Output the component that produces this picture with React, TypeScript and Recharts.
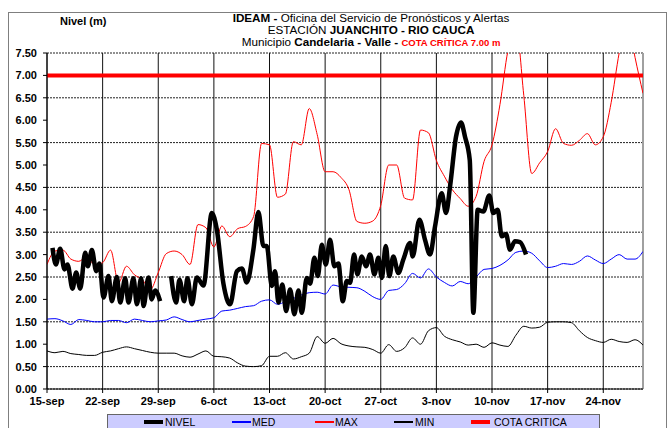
import React from "react";
import { CartesianGrid, Line, LineChart, ReferenceLine, XAxis, YAxis } from "recharts";

// days counted from 15-sep
const weekTicks = [0, 7, 14, 21, 28, 35, 42, 49, 56, 63, 70];
const weekLabels = ["15-sep", "22-sep", "29-sep", "6-oct", "13-oct", "20-oct", "27-oct", "3-nov", "10-nov", "17-nov", "24-nov"];
const levelTicks = [0, 0.5, 1, 1.5, 2, 2.5, 3, 3.5, 4, 4.5, 5, 5.5, 6, 6.5, 7, 7.5];
const lastDay = 75;
const cotaCritica = 7.0;

// daily historical curves, day 0..75
const maxLevel = [
  2.78, 3.08, 3.1, 2.9, 2.85, 2.95, 2.77, 2.82, 3.1, 2.37,
  2.74, 2.55, 2.44, 2.22, 2.6, 3.02, 3.08, 3.0, 2.78, 3.67,
  3.6, 3.17, 3.64, 3.4, 3.58, 3.63, 3.85, 5.48, 5.45, 4.28,
  4.35, 5.52, 5.45, 6.26, 5.68, 4.85, 4.85, 4.72, 4.45, 3.74,
  3.7, 3.75, 4.1, 5.0, 5.0, 4.26, 4.22, 5.78, 5.72, 5.1,
  4.75, 4.45, 4.25, 4.08, 4.3, 5.08, 5.45, 6.35, 7.55, 8.1,
  6.55, 4.81, 5.05, 5.3, 5.81, 5.48, 5.44, 5.55, 5.7, 5.45,
  5.63, 6.4, 7.5, 8.3, 7.4, 6.6,
];
const medLevel = [
  1.56, 1.57, 1.52, 1.44, 1.55, 1.53, 1.5, 1.5, 1.53, 1.53,
  1.48, 1.56, 1.53, 1.5, 1.52, 1.54, 1.61, 1.55, 1.5, 1.53,
  1.56, 1.59, 1.74, 1.76, 1.8, 1.84, 1.86, 1.96, 1.99, 1.89,
  1.95, 2.02, 2.1, 2.15, 2.16, 2.12, 2.32, 2.28, 2.27, 2.26,
  2.18, 2.06, 2.0, 2.2, 2.22, 2.35, 2.58, 2.48, 2.68, 2.5,
  2.38, 2.3, 2.4, 2.35, 2.5, 2.67, 2.69, 2.76, 2.88, 3.05,
  3.08, 3.03, 2.86, 2.71, 2.74, 2.8, 2.78, 2.85, 2.97, 2.88,
  2.8, 2.9, 3.0, 2.9, 2.9, 3.07,
];
const minLevel = [
  0.85, 0.81, 0.84, 0.79, 0.77, 0.75, 0.75, 0.82, 0.85, 0.9,
  0.94, 0.9, 0.86, 0.82, 0.8, 0.8, 0.8, 0.74, 0.71, 0.78,
  0.85, 0.73, 0.72, 0.69, 0.58, 0.51, 0.5, 0.52, 0.73, 0.73,
  0.81, 0.67, 0.72, 0.8, 1.17, 1.02, 1.13, 1.01, 0.96, 0.94,
  0.93, 0.88, 0.8, 0.99, 0.84, 0.92, 1.14, 1.0, 1.3, 1.37,
  1.18, 1.1, 1.05, 0.98, 1.0, 0.93, 1.03, 0.98, 0.95, 1.2,
  1.4, 1.36, 1.38, 1.49, 1.5, 1.5, 1.48, 1.3, 1.15, 1.08,
  1.04, 1.11, 1.06, 1.04, 1.1, 0.98,
];

// observed level readings (day, metres); null = no data
const nivelDay = [
  0.69, 1.12, 1.66, 2.2, 2.58, 3.21, 3.67, 4.18, 4.81, 5.14,
  5.65, 6.19, 6.6, 7.11, 7.74, 8.16, 8.79, 9.21, 9.84, 10.25,
  10.88, 11.31, 11.85, 12.14, 12.77, 13.17, 13.61, 14.24, 14.9,
  15.62, 16.25, 16.67, 17.26, 17.67, 18.23, 18.86, 19.69, 20.74, 21.37,
  22.2, 23.04, 23.89, 24.52, 25.14, 25.97, 26.6, 27.23, 27.66, 28.29,
  28.7, 29.12, 29.62, 30.09, 30.59, 31.13, 31.64, 32.06, 32.69, 33.11,
  33.65, 34.08, 34.58, 35.08, 35.62, 36.16, 36.67, 37.22, 37.72, 38.14,
  38.64, 39.06, 39.61, 40.15, 40.65, 41.2, 41.7, 42.13, 42.63, 43.08,
  43.58, 44.21, 44.84, 45.69, 46.02, 46.86, 47.57, 48.2, 48.83, 49.67,
  50.21, 50.72, 51.47, 52.1, 52.6, 53.2, 53.65, 54.2, 54.91, 55.66,
  56.16, 56.72, 57.22, 57.76, 58.26, 58.89, 59.52, 60.28,
];
const nivelLevel = [
  3.15, 2.78, 3.13, 2.67, 2.78, 2.24, 2.6, 2.24, 3.04, 2.74,
  3.1, 2.63, 2.8, 2.04, 2.52, 1.96, 2.5, 1.93, 2.47, 1.93,
  2.47, 1.89, 2.47, 1.85, 2.49, 2.0, 2.2, 1.96, null,
  2.52, 1.93, 2.44, 1.96, 2.47, 1.89, 2.49, 2.31, 3.93, 3.56,
  2.35, 1.89, 2.63, 2.69, 2.38, 3.11, 3.95, 3.19, 3.19, 2.3,
  2.63, 1.93, 2.33, 1.74, 2.22, 1.67, 2.2, 1.7, 2.48, 2.35,
  2.93, 2.52, 3.22, 2.78, 3.33, 2.74, 2.8, 1.96, 2.41, 2.37,
  3.0, 2.56, 2.96, 2.74, 3.0, 2.56, 2.93, 2.48, 3.19, 2.52,
  2.96, 2.59, 2.89, 3.26, 2.96, 3.78, 3.33, 3.0, 3.63, 4.37,
  3.93, 4.52, 5.63, 5.95, 5.63, 5.11, 1.7, 4.0, 3.96, 4.32,
  3.93, 4.0, 3.41, 3.46, 3.11, 3.3, 3.28, 3.0,
];

const daily = (vals: number[]) => vals.map((v, d) => ({ d, v }));
const nivelData = nivelDay.map((d, i) => ({ d, v: nivelLevel[i] }));
const cotaData = [
  { d: 0, v: cotaCritica },
  { d: lastDay, v: cotaCritica },
];

const FONT = "'Liberation Sans', Arial, sans-serif";

const legendItems = [
  { label: "NIVEL", color: "#000000", width: 4, lineX: 144, textX: 165 },
  { label: "MED", color: "#0000ff", width: 1.5, lineX: 232, textX: 252 },
  { label: "MAX", color: "#ff0000", width: 1.5, lineX: 315, textX: 335 },
  { label: "MIN", color: "#000000", width: 1.5, lineX: 394, textX: 415 },
  { label: "COTA CRITICA", color: "#ff0000", width: 4, lineX: 471, textX: 494 },
];

export default function App() {
  return (
    <div
      style={{
        position: "fixed",
        left: 0,
        top: 0,
        width: 671,
        height: 428,
        overflow: "hidden",
        background: "#fff",
        fontFamily: FONT,
      }}
    >
      <div
        style={{
          position: "absolute",
          left: 8,
          top: 12,
          width: 657,
          height: 430,
          border: "1px solid #7f7f7f",
        }}
      />
      <LineChart
        width={671}
        height={428}
        margin={{ top: 53, right: 28, bottom: 18, left: 0 }}
        style={{ position: "absolute", left: 0, top: 0 }}
      >
        <CartesianGrid vertical={false} stroke="#222" strokeDasharray="2 1" />
        <CartesianGrid horizontal={false} stroke="#111" />
        <XAxis
          type="number"
          dataKey="d"
          domain={[0, lastDay]}
          ticks={weekTicks}
          tickFormatter={(d: number) => weekLabels[weekTicks.indexOf(d)] ?? ""}
          height={21}
          allowDataOverflow
          axisLine={{ stroke: "#000" }}
          tickLine={{ stroke: "#000" }}
          tickSize={4}
          tickMargin={4}
          tick={{ fontSize: 11, fontWeight: 700, fill: "#000", fontFamily: FONT }}
        />
        <YAxis
          type="number"
          domain={[0, 7.5]}
          ticks={levelTicks}
          tickFormatter={(v: number) => v.toFixed(2)}
          width={47}
          allowDataOverflow
          axisLine={{ stroke: "#000" }}
          tickLine={{ stroke: "#000" }}
          tickSize={4}
          tickMargin={6}
          tick={{ fontSize: 11, fontWeight: 700, fill: "#000", fontFamily: FONT }}
        />
        <ReferenceLine x={lastDay} stroke="#a0a0a0" strokeWidth={2} />
        <Line data={daily(minLevel)} dataKey="v" type="monotone" stroke="#000" strokeWidth={1} dot={false} isAnimationActive={false} />
        <Line data={daily(medLevel)} dataKey="v" type="monotone" stroke="#0000ff" strokeWidth={1} dot={false} isAnimationActive={false} />
        <Line data={daily(maxLevel)} dataKey="v" type="monotone" stroke="#ff0000" strokeWidth={1} dot={false} isAnimationActive={false} />
        <Line data={cotaData} dataKey="v" type="linear" stroke="#ff0000" strokeWidth={4} dot={false} isAnimationActive={false} />
        <Line data={nivelData} dataKey="v" type="monotone" stroke="#000" strokeWidth={4.5} dot={false} isAnimationActive={false} />
      </LineChart>

      <div style={{ position: "absolute", left: 60, top: 15, fontSize: 11, fontWeight: 700 }}>Nivel (m)</div>
      <div
        style={{
          position: "absolute",
          left: 171,
          top: 12,
          width: 400,
          textAlign: "center",
          fontSize: 11.7,
          lineHeight: "12px",
          color: "#000",
        }}
      >
        <div>
          <b>IDEAM -</b> Oficina del Servicio de Pronósticos y Alertas
        </div>
        <div>
          ESTACIÓN <b>JUANCHITO - RIO CAUCA</b>
        </div>
        <div>
          Municipio <b>Candelaria - Valle - </b>
          <b style={{ color: "#ff0000", fontSize: 9.5 }}>COTA CRÍTICA 7.00 m</b>
        </div>
      </div>

      <div
        style={{
          position: "absolute",
          left: 107,
          top: 414,
          width: 491,
          height: 20,
          background: "#ccccff",
          border: "1px solid #666",
        }}
      />
      {legendItems.map((it) => (
        <React.Fragment key={it.label}>
          <div
            style={{
              position: "absolute",
              left: it.lineX,
              top: 422 - it.width / 2,
              width: 19,
              height: it.width,
              background: it.color,
            }}
          />
          <div style={{ position: "absolute", left: it.textX, top: 416, fontSize: 10.5, lineHeight: "12px" }}>
            {it.label}
          </div>
        </React.Fragment>
      ))}
    </div>
  );
}
